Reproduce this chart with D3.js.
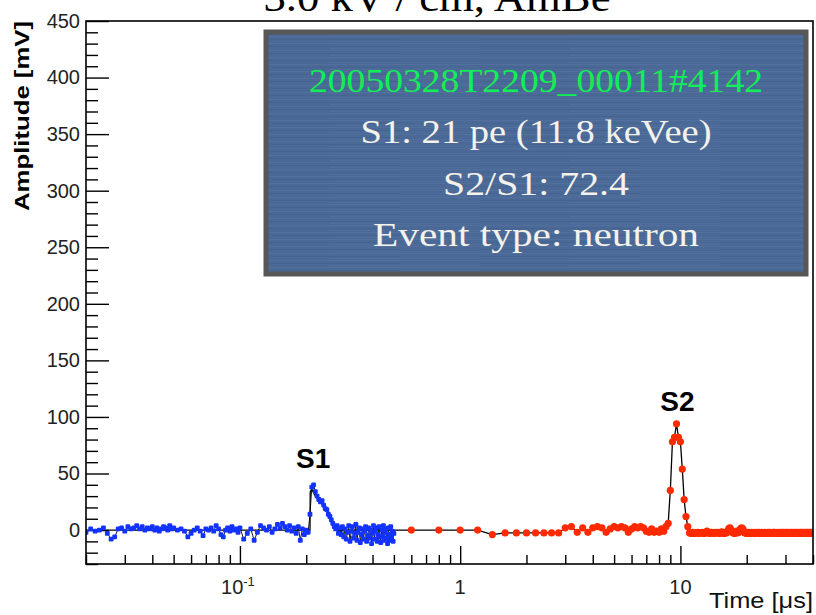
<!DOCTYPE html>
<html><head><meta charset="utf-8">
<script src="https://cdn.jsdelivr.net/npm/d3@7"></script>
<style>body{margin:0;background:#fff}svg{display:block}</style>
</head><body>
<svg id="chart" width="816" height="615"></svg>
<script>
// ---------- data ----------
const titleText = "3.0 kV / cm, AmBe";
const eventId = "20050328T2209_00011#4142";
const infoLines = ["S1: 21 pe (11.8 keVee)", "S2/S1: 72.4", "Event type: neutron"];
const peakLabels = ["S1", "S2"];
const peakLabelTimes = [0.215, 9.7];
const peakLabelAmps = [55, 105];
const yMajorTicks = [0, 50, 100, 150, 200, 250, 300, 350, 400, 450];
const xMajorTicks = [0.1, 1, 10];
const xTickBase = ["10", "1", "10"];
const xTickExp = ["-1", "", ""];
const xDomain = [0.02, 40];
const yDomain = [-30, 450];

// fine (blue) samples, time in microseconds, amplitude in mV
const blueTime = [
0.020,0.021,0.022,0.023,0.024,0.025,0.026,0.027,0.028,0.029,0.030,0.031,0.032,0.033,0.034,0.035,0.036,0.037,0.038,0.039,0.040,0.041,0.042,0.043,0.044,0.045,0.046,0.047,0.048,0.049,0.050,
0.052,0.054,0.056,0.058,0.060,0.062,0.064,0.066,0.068,0.070,0.072,0.074,0.076,0.078,0.080,0.082,0.084,0.086,0.088,0.090,0.092,0.094,0.096,0.098,0.100,
0.104,0.108,0.112,0.116,0.120,0.124,0.128,0.132,0.136,0.140,0.144,0.148,0.152,0.156,0.160,0.164,0.168,0.172,0.176,0.180,0.184,0.188,0.192,0.196,0.200,
0.204,0.208,0.212,0.216,0.220,0.224,0.228,0.232,0.236,0.240,0.244,0.248,0.252,0.256,0.260,0.264,0.268,0.272,0.276,0.280,
0.284,0.288,0.292,0.296,0.300,0.304,0.308,0.312,0.316,0.320,0.324,0.328,0.332,0.336,0.340,0.344,0.348,0.352,0.356,0.360,
0.364,0.368,0.372,0.376,0.380,0.384,0.388,0.392,0.396,0.400,0.404,0.408,0.412,0.416,0.420,0.424,0.428,0.432,0.436,0.440,
0.444,0.448,0.452,0.456,0.460,0.464,0.468,0.472,0.476,0.480,0.484,0.488,0.492,0.496,0.500];
const blueAmp = [
-2,1,-1,0,2,-3,-8,-6,1,2,-1,3,1,2,4,1,3,0,2,1,3,0,2,-1,1,3,2,0,4,1,2,
0,1,-1,-6,-3,0,2,-1,-5,1,0,2,-1,4,1,-4,-6,0,2,-1,3,0,1,-2,2,
-8,-3,1,-9,-2,4,2,0,3,-2,1,5,2,6,3,0,4,-1,2,-3,3,-9,1,-4,0,
-2,14,38,40,34,30,27,25,26,22,19,18,14,12,9,6,3,1,4,-3,
2,-4,3,-6,1,-8,-2,4,-10,-1,3,-7,-3,5,-9,-2,2,-11,-4,1,
-8,-1,3,-10,-5,2,-7,0,-12,-3,4,-8,-1,2,-10,-4,3,-6,-11,0,
-5,4,-9,-2,1,-7,-12,2,-4,-9,3,-6,-1,-10,-3];

// coarse trace through the fast window (black line only)
const coarseTime = [0.02, 0.208, 0.2085, 0.212, 0.22, 0.232, 0.25, 0.27, 0.28, 0.5];
const coarseAmp  = [0, 0, 34, 36, 30, 25, 15, 3, 0, 0];

// slow (red) samples
const redTime = [
0.6,0.8,1.0,1.2,1.4,1.6,1.8,2.0,2.2,2.4,
2.6,2.8,3.0,3.2,3.4,3.6,3.8,4.0,4.2,4.4,
4.6,4.8,5.0,5.2,5.4,5.6,5.8,6.0,6.2,6.4,
6.6,6.8,7.0,7.2,7.4,7.6,7.8,8.0,8.2,8.4,
8.6,8.8,9.0,9.2,9.4,9.6,9.8,10.0,10.2,10.4,
10.6,10.8,11.0,11.2,11.4,11.6,11.8,12.0,12.2,12.4,
12.6,12.8,13.0,13.2,13.4,13.6,13.8,14.0,14.2,14.4,
14.6,14.8,15.0,15.2,15.4,15.6,15.8,16.0,16.2,16.4,
16.6,16.8,17.0,17.2,17.4,17.6,17.8,18.0,18.2,18.4,
18.6,18.8,19.0,19.2,19.4,19.6,19.8,20.0,20.2,20.4,
20.6,20.8,21.0,21.2,21.4,21.6,21.8,22.0,22.2,22.4,
22.6,22.8,23.0,23.2,23.4,23.6,23.8,24.0,24.2,24.4,
24.6,24.8,25.0,25.2,25.4,25.6,25.8,26.0,26.2,26.4,
26.6,26.8,27.0,27.2,27.4,27.6,27.8,28.0,28.2,28.4,
28.6,28.8,29.0,29.2,29.4,29.6,29.8,30.0,30.2,30.4,
30.6,30.8,31.0,31.2,31.4,31.6,31.8,32.0,32.2,32.4,
32.6,32.8,33.0,33.2,33.4,33.6,33.8,34.0,34.2,34.4,
34.6,34.8,35.0,35.2,35.4,35.6,35.8,36.0,36.2,36.4,
36.6,36.8,37.0,37.2,37.4,37.6,37.8,38.0,38.2,38.4,
38.6,38.8,39.0,39.2,39.4,39.6,39.8,40.0];
const redAmp = [
0,0,0,0,-4,-2.5,-2.5,-2.5,-2.5,-2.5,
-2.5,-2.5,2,3,-2,2,-2,2,3,2,
-2,1,3,2,3,2,-2,1,3,2,
3,2,-1,-2,1,-2,-1,-2,1,-1,
3,6,35,78,82,94,82,78,54,27,
12,3,-2.5,-3,-2,-3,-2.5,-2,-3,-2.5,
-2,-3,-2.5,-1,-2.5,-3,-2,-2.5,-3,-2,
-2.5,-2,-3,-2.5,-1.5,-2.5,-3,-2,-2.5,-1,
1.5,2,0,-2,-2.5,-3,-2,-1,-2.5,-2,
0,1.5,2,1,-1,-2.5,-2,-3,-2.5,-2,
-2.5,-3,-2,-2.5,-2.5,-2,-3,-2.5,-2,-2.5,
-2.5,-2,-3,-2.5,-2,-2.5,-3,-2.5,-2,-2.5,
-2.5,-3,-2,-2.5,-2.5,-2,-2.5,-3,-2.5,-2,
-2.5,-2,-2.5,-3,-2.5,-2,-2.5,-2.5,-3,-2,
-2.5,-2.5,-2,-3,-2.5,-2,-2.5,-2.5,-2,-3,
-2.5,-2,-2.5,-2.5,-3,-2,-2.5,-2.5,-2,-2.5,
-3,-2.5,-2,-2.5,-2.5,-2,-3,-2.5,-2.5,-2,
-2.5,-2.5,-3,-2,-2.5,-2.5,-2,-2.5,-3,-2.5,
-2,-2.5,-2.5,-3,-2,-2.5,-2.5,-2,-2.5,-3,
-2.5,-2,-2.5,-2.5,-3,-2,-2.5,-2.5];

// ---------- drawing ----------
const L = 86, R = 813, T = 21, B = 564;
const svg = d3.select("#chart");
const x = d3.scaleLog().domain(xDomain).range([L, R]);
const y = d3.scaleLinear().domain(yDomain).range([B, T]);

const defs = svg.append("defs");
defs.append("clipPath").attr("id", "plotclip")
  .append("rect").attr("x", L).attr("y", T).attr("width", R - L).attr("height", B - T);
const pat = defs.append("pattern").attr("id", "brushed").attr("patternUnits", "userSpaceOnUse")
  .attr("width", 240).attr("height", 7);
pat.append("rect").attr("width", 240).attr("height", 7).attr("fill", "#4a6996");
pat.append("rect").attr("y", 1).attr("width", 240).attr("height", 1).attr("fill", "#5574a1").attr("opacity", 0.6);
pat.append("rect").attr("y", 4).attr("width", 160).attr("height", 1).attr("fill", "#42608c").attr("opacity", 0.6);
pat.append("rect").attr("x", 90).attr("y", 6).attr("width", 150).attr("height", 1).attr("fill", "#5373a0").attr("opacity", 0.5);

// title (partially cut by the top edge, as in the source image)
svg.append("text").attr("x", 437).attr("y", 11)
  .attr("text-anchor", "middle")
  .attr("font-family", "'Liberation Serif', serif").attr("font-size", 40)
  .attr("textLength", 347).attr("lengthAdjust", "spacingAndGlyphs")
  .attr("fill", "#000").text(titleText);

// axes ticks
const yMinor = d3.range(-30, 451, 10).filter(v => v % 50 !== 0);
const xMinor = [];
[0.01, 0.1, 1, 10].forEach(d => { for (let k = 2; k <= 9; k++) { const v = +(d * k).toPrecision(3); if (v >= xDomain[0] && v <= xDomain[1]) xMinor.push(v); } });

const gy = svg.append("g").attr("transform", `translate(${L},0)`)
  .call(d3.axisLeft(y).tickValues(yMajorTicks).tickSizeInner(-23).tickSizeOuter(0).tickPadding(6).tickFormat(d3.format("d")));
gy.select(".domain").remove();
gy.selectAll("line").attr("stroke", "#000").attr("stroke-width", 1.4);
gy.selectAll("text").attr("font-family", "Arial, 'Liberation Sans', sans-serif").attr("font-size", 20).attr("fill", "#222");

const gy2 = svg.append("g").attr("transform", `translate(${L},0)`)
  .call(d3.axisLeft(y).tickValues(yMinor).tickSizeInner(-12).tickSizeOuter(0).tickFormat(""));
gy2.select(".domain").remove();
gy2.selectAll("line").attr("stroke", "#000").attr("stroke-width", 1.4);

const gx = svg.append("g").attr("transform", `translate(0,${B})`)
  .call(d3.axisBottom(x).tickValues(xMajorTicks).tickSizeInner(-18).tickSizeOuter(0).tickFormat(""));
gx.select(".domain").remove();
gx.selectAll("line").attr("stroke", "#000").attr("stroke-width", 1.4);
const gx2 = svg.append("g").attr("transform", `translate(0,${B})`)
  .call(d3.axisBottom(x).tickValues(xMinor).tickSizeInner(-9).tickSizeOuter(0).tickFormat(""));
gx2.select(".domain").remove();
gx2.selectAll("line").attr("stroke", "#000").attr("stroke-width", 1.4);

// x tick labels
const xl = svg.append("g").selectAll("text").data(xMajorTicks).join("text")
  .attr("x", (d, i) => x(d) + (xTickExp[i] ? -2 : 0)).attr("y", 594)
  .attr("text-anchor", "middle")
  .attr("font-family", "Arial, 'Liberation Sans', sans-serif").attr("font-size", 20).attr("fill", "#222");
xl.append("tspan").text((d, i) => xTickBase[i]);
xl.filter((d, i) => xTickExp[i]).append("tspan").attr("dy", -8).attr("font-size", 13).text(d => xTickExp[xMajorTicks.indexOf(d)]);

// axis titles
svg.append("text").attr("x", R).attr("y", 608).attr("text-anchor", "end")
  .attr("font-family", "Arial, 'Liberation Sans', sans-serif").attr("font-size", 22)
  .attr("textLength", 104).attr("lengthAdjust", "spacingAndGlyphs")
  .attr("fill", "#111").text("Time [\u03bcs]");
svg.append("text").attr("transform", `translate(29,${T}) rotate(-90)`).attr("text-anchor", "end")
  .attr("font-family", "Arial, 'Liberation Sans', sans-serif").attr("font-weight", "bold").attr("font-size", 20)
  .attr("textLength", 190).attr("lengthAdjust", "spacingAndGlyphs")
  .attr("fill", "#000").text("Amplitude [mV]");

// data layer
const plot = svg.append("g").attr("clip-path", "url(#plotclip)");
const blue = blueTime.map((t, i) => [t, blueAmp[i]]);
const red = redTime.map((t, i) => [t, redAmp[i]]);
const coarse = coarseTime.map((t, i) => [t, coarseAmp[i]]).concat(red);
const line = d3.line().x(d => x(d[0])).y(d => y(d[1]));

plot.append("path").datum(blue).attr("d", line).attr("fill", "none").attr("stroke", "#000").attr("stroke-width", 0.9);
plot.append("path").datum(coarse).attr("d", line).attr("fill", "none").attr("stroke", "#000").attr("stroke-width", 1.3);
plot.append("g").selectAll("rect").data(blue).join("rect")
  .attr("x", d => x(d[0]) - 2.4).attr("y", d => y(d[1]) - 2.4).attr("width", 4.8).attr("height", 4.8)
  .attr("rx", 1.2).attr("fill", "#1233ff");
plot.append("g").selectAll("circle").data(red).join("circle")
  .attr("cx", d => x(d[0])).attr("cy", d => y(d[1])).attr("r", 3.6).attr("fill", "#ff2a00");

// peak labels
svg.append("g").selectAll("text").data(peakLabels).join("text")
  .attr("x", (d, i) => x(peakLabelTimes[i])).attr("y", (d, i) => y(peakLabelAmps[i]))
  .attr("text-anchor", "middle").attr("font-family", "Arial, 'Liberation Sans', sans-serif")
  .attr("font-weight", "bold").attr("font-size", 28).attr("fill", "#000").text(d => d);

// frame
svg.append("rect").attr("x", L).attr("y", T).attr("width", R - L).attr("height", B - T)
  .attr("fill", "none").attr("stroke", "#000").attr("stroke-width", 1.6);

// info box
const bx = 266, by = 32, bw = 540, bh = 242;
svg.append("rect").attr("x", bx).attr("y", by).attr("width", bw).attr("height", bh)
  .attr("fill", "url(#brushed)").attr("stroke", "#575757").attr("stroke-width", 5);
const lines = [eventId].concat(infoLines);
const lineLens = [454, 351, 186, 326];
const lineColors = ["#12ee55", "#f4f2ea", "#f4f2ea", "#f4f2ea"];
svg.append("g").selectAll("text").data(lines).join("text")
  .attr("x", 536).attr("y", (d, i) => 92 + i * 51.3)
  .attr("text-anchor", "middle").attr("font-family", "'Liberation Serif', serif").attr("font-size", 34)
  .attr("textLength", (d, i) => lineLens[i]).attr("lengthAdjust", "spacingAndGlyphs")
  .attr("fill", (d, i) => lineColors[i]).text(d => d);
</script>
</body></html>
